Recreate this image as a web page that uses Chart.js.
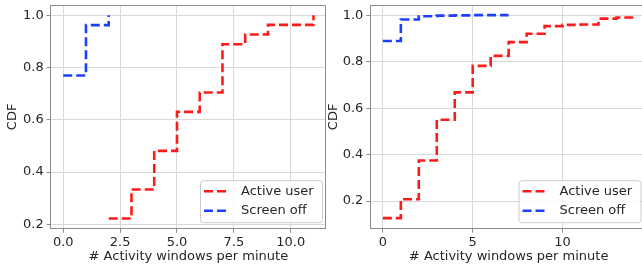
<!DOCTYPE html>
<html>
<head>
<meta charset="utf-8">
<script src="https://cdn.jsdelivr.net/npm/chart.js@4"></script>
<style>
  html, body { margin: 0; padding: 0; background: #fff; }
  body { width: 642px; height: 265px; position: relative; overflow: hidden; }
  .box { position: absolute; top: 0; height: 265px; }
  #left { left: 0; width: 326px; }
  #right { left: 321px; width: 326px; }
</style>
</head>
<body>
<div class="box" id="left"><canvas id="cLeft"></canvas></div>
<div class="box" id="right"><canvas id="cRight"></canvas></div>
<script>
// series labels
const seriesNames = ['Active user', 'Screen off'];
const seriesColors = ['#ff1a1a', '#1f3fff'];

// left panel
const leftActiveX = [2, 3, 4, 5, 6, 7, 8, 9, 11];
const leftActiveY = [0.222, 0.333, 0.481, 0.630, 0.704, 0.889, 0.926, 0.963, 1.0];
const leftScreenX = [0, 1, 2];
const leftScreenY = [0.769, 0.962, 1.0];
const leftXTicks = [0, 2.5, 5, 7.5, 10];
const leftYTicks = [0.2, 0.4, 0.6, 0.8, 1.0];

// right panel
const rightActiveX = [0, 1, 2, 3, 4, 5, 6, 7, 8, 9, 10, 11, 12, 13, 14];
const rightActiveY = [0.127, 0.208, 0.375, 0.55, 0.668, 0.782, 0.825, 0.884, 0.92, 0.953, 0.958, 0.96, 0.985, 0.99, 1.0];
const rightScreenX = [0, 1, 2, 3, 4, 5, 6, 7];
const rightScreenY = [0.889, 0.981, 0.995, 0.998, 0.999, 1.0, 1.0, 1.0];
const rightXTicks = [0, 5, 10];
const rightYTicks = [0.2, 0.4, 0.6, 0.8, 1.0];

const FONT = 'DejaVu Sans';
const gridColor = '#d9d9d9';
const spineColor = '#8c8c8c';
const textColor = '#262626';

function pts(xs, ys) {
  return xs.map((x, i) => ({ x: x, y: ys[i] }));
}

// top and right spines + legend box inside the plot
const framePlugin = {
  id: 'frame',
  afterDraw(chart) {
    const ctx = chart.ctx;
    const a = chart.chartArea;
    ctx.save();
    ctx.strokeStyle = spineColor;
    ctx.lineWidth = 1;
    ctx.beginPath();
    ctx.moveTo(a.left, a.top + 0.5);
    ctx.lineTo(a.right - 0.5, a.top + 0.5);
    ctx.lineTo(a.right - 0.5, a.bottom);
    ctx.stroke();

    // legend
    const lw = 122, lh = 42;
    const lx = a.right - 4 - lw + (chart.options.legendShift || 0);
    const ly = a.bottom - 6.5 - lh;
    ctx.fillStyle = 'rgba(255,255,255,0.8)';
    ctx.strokeStyle = '#cccccc';
    ctx.beginPath();
    ctx.roundRect(lx + 0.5, ly + 0.5, lw, lh, 3);
    ctx.fill();
    ctx.stroke();
    ctx.font = '13px "' + FONT + '"';
    ctx.textBaseline = 'middle';
    chart.data.datasets.forEach((ds, i) => {
      const y = ly + 11 + i * 19.5;
      ctx.strokeStyle = ds.borderColor;
      ctx.lineWidth = 2.6;
      ctx.setLineDash([9, 4]);
      ctx.beginPath();
      ctx.moveTo(lx + 4, y);
      ctx.lineTo(lx + 30, y);
      ctx.stroke();
      ctx.setLineDash([]);
      ctx.fillStyle = textColor;
      ctx.fillText(ds.label, lx + 41, y);
    });
    ctx.restore();
  }
};

function makeChart(id, sets, xRange, xTicks, yRange, yTicks, xDigits, legendShift) {
  return new Chart(document.getElementById(id), {
    type: 'scatter',
    data: {
      datasets: sets.map((s, i) => ({
        label: seriesNames[i],
        data: s,
        showLine: true,
        stepped: true,
        borderColor: seriesColors[i],
        backgroundColor: seriesColors[i],
        borderWidth: 2.6,
        borderDash: [9, 4],
        pointRadius: 0,
        fill: false
      }))
    },
    options: {
      responsive: true,
      maintainAspectRatio: false,
      animation: false,
      legendShift: legendShift,
      layout: { padding: { top: 5, right: 0, left: 0, bottom: 0 } },
      plugins: { legend: { display: false }, tooltip: { enabled: false } },
      scales: {
        x: {
          type: 'linear',
          min: xRange[0],
          max: xRange[1],
          afterBuildTicks: s => { s.ticks = xTicks.map(v => ({ value: v })); },
          afterFit: s => { s.height = 36.3; s.paddingLeft = 0; s.paddingRight = 0; },
          grid: { color: gridColor, tickColor: spineColor, tickLength: 4, lineWidth: 1 },
          border: { display: true, color: spineColor, width: 1 },
          ticks: {
            color: textColor,
            font: { family: FONT, size: 13 },
            padding: 2,
            maxRotation: 0,
            callback: v => v.toFixed(xDigits)
          },
          title: {
            display: true,
            text: '# Activity windows per minute',
            color: textColor,
            font: { family: FONT, size: 13 },
            padding: { top: 0, bottom: 1 }
          }
        },
        y: {
          type: 'linear',
          min: yRange[0],
          max: yRange[1],
          afterBuildTicks: s => { s.ticks = yTicks.map(v => ({ value: v })); },
          afterFit: s => { s.width = id === 'cLeft' ? 50.7 : 49.3; s.paddingTop = 0; s.paddingBottom = 0; },
          grid: { color: gridColor, tickColor: spineColor, tickLength: 4, lineWidth: 1 },
          border: { display: true, color: spineColor, width: 1 },
          ticks: {
            color: textColor,
            font: { family: FONT, size: 13 },
            padding: 3,
            callback: v => v.toFixed(1)
          },
          title: {
            display: true,
            text: 'CDF',
            color: textColor,
            font: { family: FONT, size: 13 },
            padding: { top: 5, bottom: 0 }
          }
        }
      }
    },
    plugins: [framePlugin]
  });
}

makeChart('cLeft',
  [pts(leftActiveX, leftActiveY), pts(leftScreenX, leftScreenY)],
  [-0.55, 11.55], leftXTicks, [0.1831, 1.0389], leftYTicks, 1, 0);

makeChart('cRight',
  [pts(rightActiveX, rightActiveY), pts(rightScreenX, rightScreenY)],
  [-0.7, 14.7], rightXTicks, [0.0813, 1.0437], rightYTicks, 0, -2.5);
</script>
</body>
</html>
